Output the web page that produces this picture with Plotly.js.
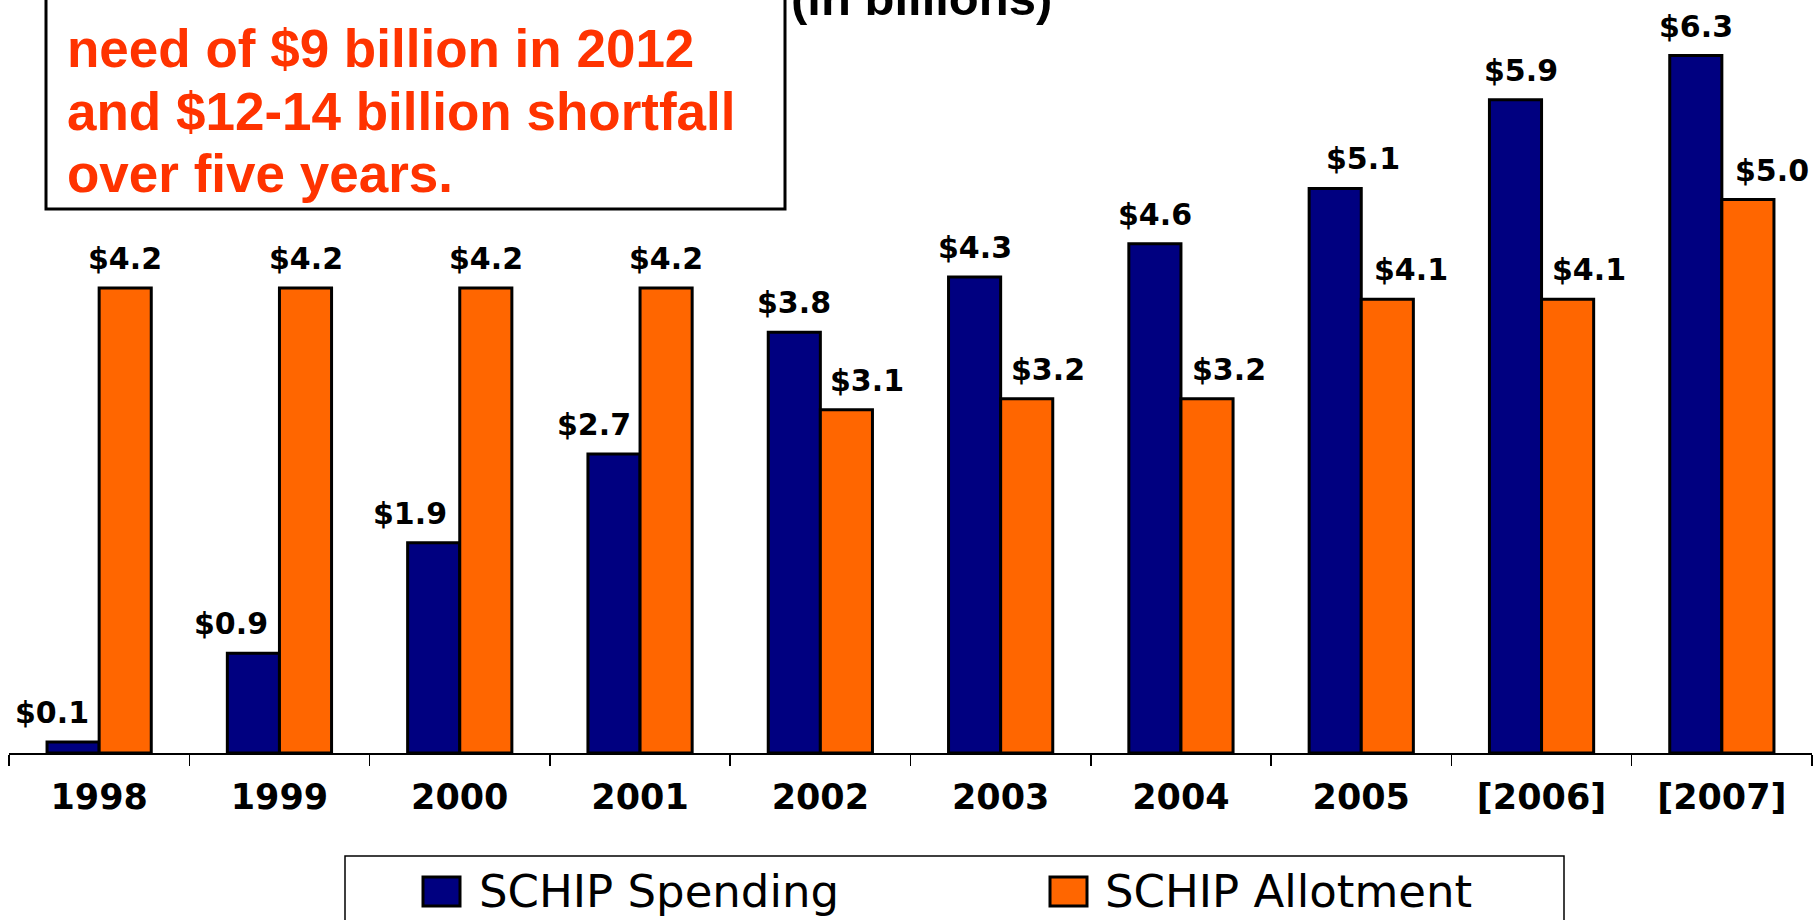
<!DOCTYPE html>
<html>
<head>
<meta charset="utf-8">
<script src="https://cdn.plot.ly/plotly-3.0.1.min.js"></script>
<style>html,body{margin:0;padding:0;background:#fff;}#chart{width:1814px;height:920px;}</style>
</head>
<body>
<div id="chart"></div>
<script>
// ---- data ----
const years = ['1998', '1999', '2000', '2001', '2002', '2003', '2004', '2005', '[2006]', '[2007]'];
const spending = [0.1, 0.9, 1.9, 2.7, 3.8, 4.3, 4.6, 5.1, 5.9, 6.3];
const allotment = [4.2, 4.2, 4.2, 4.2, 3.1, 3.2, 3.2, 4.1, 4.1, 5.0];
const seriesNames = ['SCHIP Spending', 'SCHIP Allotment'];
const seriesColors = ['#000080', '#FF6600'];
const noteLines = ['need of $9 billion in 2012', 'and $12-14 billion shortfall', 'over five years.'];
const unitNote = '(in billions)';

// label nudges (pixels) as placed in the original slide
const spendLabelShift = [-21, -22, -24, -20, 0, 0, 0, 28, 5, 0];
const allotLabelShift = [0, 0, 0, 0, 21, 21, 22, 24, 21, 24];

// ---- layout helpers ----
const W = 1814, H = 920;
const mL = 9, mR = 2, mT = 0, mB = 167;
const plotW = W - mL - mR, plotH = H - mT - mB;
const px = x => (x - mL) / plotW;          // pixel x -> paper x
const py = y => (H - mB - y) / plotH;      // pixel y -> paper y
const FONT = 'Liberation Sans, Arial, sans-serif';
const WIDE = 'DejaVu Sans, sans-serif';
const BARGAP = 0.422;
const half = (1 - BARGAP) / 4;             // offset of each bar centre from category centre

const traces = [spending, allotment].map((vals, k) => ({
  type: 'bar',
  name: seriesNames[k],
  x: years,
  y: vals,
  marker: {color: seriesColors[k], line: {color: '#000', width: 3}},
  showlegend: false,
  hoverinfo: 'x+y+name'
}));

const annotations = [];
[spending, allotment].forEach((vals, k) => {
  const shifts = k === 0 ? spendLabelShift : allotLabelShift;
  vals.forEach((v, i) => {
    annotations.push({
      xref: 'x', yref: 'y', x: i + (k === 0 ? -half : half), y: v,
      text: '$' + v.toFixed(1), showarrow: false,
      xanchor: 'center', yanchor: 'bottom', yshift: 10, xshift: shifts[i],
      font: {family: WIDE, size: 30, color: '#000', weight: 'bold'}
    });
  });
});

// note box text
const noteBaselines = [67, 129.5, 192];
noteLines.forEach((t, i) => {
  annotations.push({
    xref: 'paper', yref: 'paper', x: px(65), y: py(noteBaselines[i] - 18.4),
    xanchor: 'left', yanchor: 'middle', showarrow: false, text: t,
    font: {family: FONT, size: 53, color: '#FF3300', weight: 'bold'}
  });
});
annotations.push({
  xref: 'paper', yref: 'paper', x: px(789), y: py(15 - 17),
  xanchor: 'left', yanchor: 'middle', showarrow: false, text: unitNote,
  font: {family: FONT, size: 49, color: '#000', weight: 'bold'}
});

// legend texts
const legTextX = [477, 1103];
seriesNames.forEach((n, k) => {
  annotations.push({
    xref: 'paper', yref: 'paper', x: px(legTextX[k]), y: py(891),
    xanchor: 'left', yanchor: 'middle', showarrow: false, text: n,
    font: {family: WIDE, size: 45, color: '#000'}
  });
});

const swX = [[423, 460], [1050, 1087]];
const shapes = [
  // note box
  {type: 'rect', xref: 'paper', yref: 'paper', x0: px(46), x1: px(785), y0: py(209), y1: py(-40),
   line: {color: '#000', width: 3}, fillcolor: 'rgba(0,0,0,0)'},
  // legend box
  {type: 'rect', xref: 'paper', yref: 'paper', x0: px(345), x1: px(1564), y0: py(856), y1: py(960),
   line: {color: '#000', width: 1.5}, fillcolor: 'rgba(0,0,0,0)'}
];
swX.forEach((s, k) => {
  shapes.push({type: 'rect', xref: 'paper', yref: 'paper', x0: px(s[0]), x1: px(s[1]), y0: py(906), y1: py(877),
    line: {color: '#000', width: 3}, fillcolor: seriesColors[k]});
});

const layout = {
  width: W, height: H,
  margin: {l: mL, r: mR, t: mT, b: mB, autoexpand: false},
  paper_bgcolor: '#fff', plot_bgcolor: '#fff',
  barmode: 'group', bargap: BARGAP, bargroupgap: 0,
  showlegend: false,
  xaxis: {
    type: 'category', showline: true, linecolor: '#000', linewidth: 1.5,
    ticks: 'outside', tickson: 'boundaries', ticklen: 11, tickwidth: 1.5, tickcolor: '#000',
    showgrid: false, zeroline: false, ticklabelstandoff: 12,
    tickfont: {family: WIDE, size: 35, color: '#000', weight: 'bold'}
  },
  yaxis: {visible: false, range: [0, plotH / 110.7], showgrid: false, zeroline: false, fixedrange: true},
  annotations: annotations,
  shapes: shapes,
  font: {family: FONT}
};

Plotly.newPlot('chart', traces, layout, {displayModeBar: false, staticPlot: true});
</script>
</body>
</html>
